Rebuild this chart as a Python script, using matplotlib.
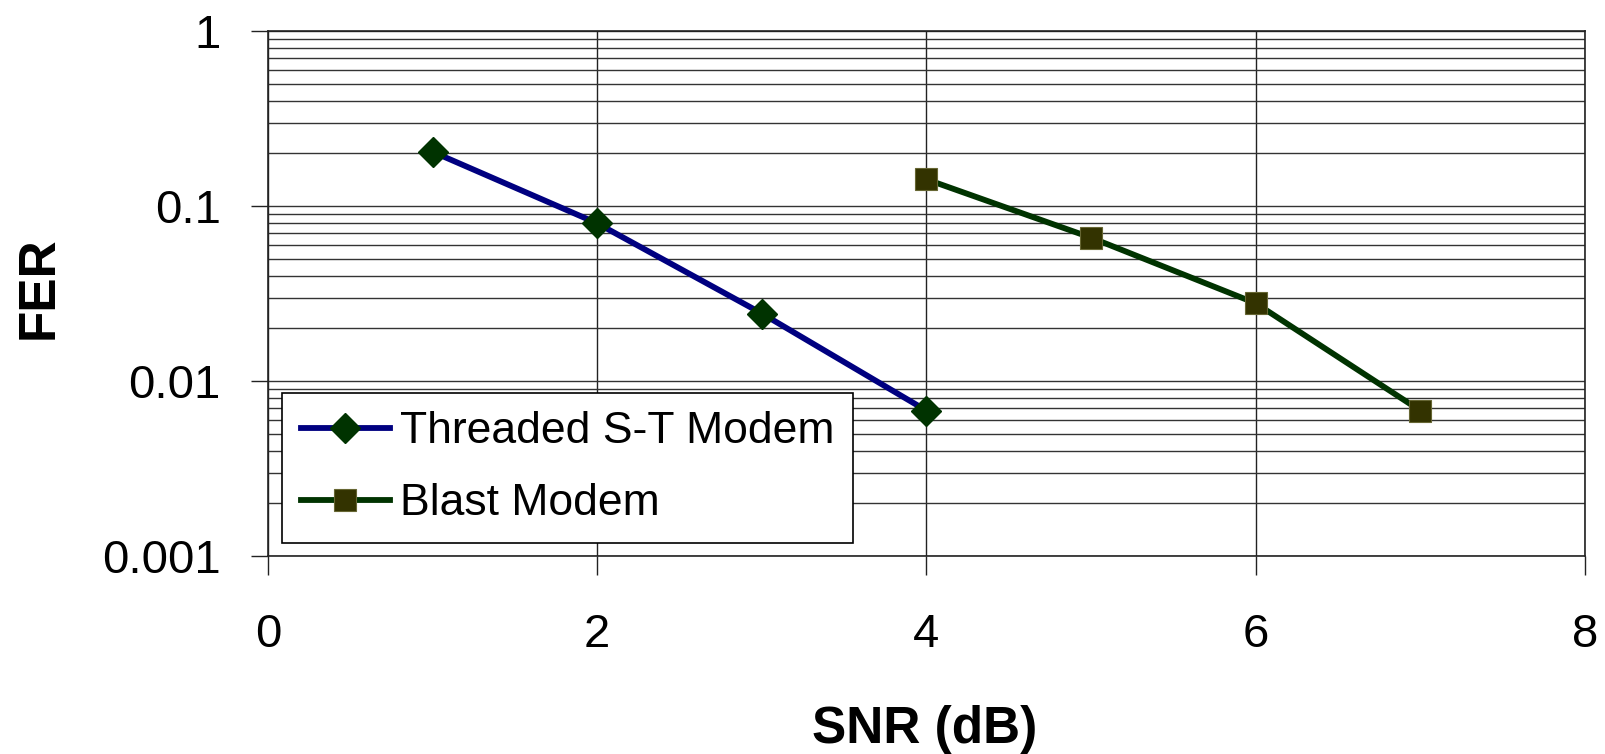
import matplotlib
matplotlib.use("Agg")
import matplotlib.pyplot as plt
import numpy as np

# data
snr_threaded = [1, 2, 3, 4]
fer_threaded = [0.204, 0.0796, 0.0243, 0.00677]
snr_blast = [4, 5, 6, 7]
fer_blast = [0.142, 0.0659, 0.0278, 0.00677]
x_ticks = [0, 2, 4, 6, 8]
y_ticks = [0.001, 0.01, 0.1, 1]
y_tick_labels = ["0.001", "0.01", "0.1", "1"]

plt.rcParams["font.family"] = ["Liberation Sans", "DejaVu Sans"]
tick_fs = 34
leg_fs = 32
lab_fs = 37

W, H = 1606, 754
fig = plt.figure(figsize=(W / 100, H / 100), dpi=100)
ax = fig.add_axes([268 / W, 1 - 556 / H, 1317 / W, 525 / H])

ax.set_yscale("log")
ax.set_xlim(0, 8)
ax.set_ylim(0.001, 1)

# grid: every decade and sub-decade, vertical lines at the major x ticks
ax.set_yticks(y_ticks)
ax.set_yticklabels(y_tick_labels)
ax.set_yticks([m * 10.0 ** e for e in (-3, -2, -1) for m in range(2, 10)], minor=True)
ax.set_xticks(x_ticks)
ax.grid(True, which="both", axis="y", color="#333333", lw=1.0)
ax.grid(True, which="major", axis="x", color="#222222", lw=1.0)
ax.set_axisbelow(True)

ax.tick_params(axis="x", which="major", direction="out", length=14, width=1.0,
               color="#222222", labelsize=tick_fs, pad=27)
ax.tick_params(axis="y", which="major", direction="out", length=12, width=1.0,
               color="#222222", labelsize=tick_fs, pad=22)
ax.tick_params(axis="y", which="minor", length=0)
for s in ax.spines.values():
    s.set_color("#222222")
    s.set_linewidth(1.2)

ax.plot(snr_threaded, fer_threaded, color="#000080", lw=4.2, marker="D", ms=15,
        mfc="#003300", mec="#003300", label="Threaded S-T Modem", zorder=3)
ax.plot(snr_blast, fer_blast, color="#003300", lw=4.2, marker="s", ms=16.5,
        mfc="#333300", mec="#666633", mew=0.8, label="Blast Modem", zorder=3)

leg = ax.legend(loc="lower left", bbox_to_anchor=(0.0106, 0.0248), borderaxespad=0,
                fontsize=leg_fs, fancybox=False, framealpha=1, edgecolor="black",
                handlelength=2.0, handletextpad=0.23, borderpad=0.42,
                labelspacing=0.7)
leg.get_frame().set_linewidth(1.2)

fig.text(39 / W, 1 - 288 / H, "FER", rotation=90, ha="center", va="center",
         fontsize=lab_fs, fontweight="bold")
fig.text(925 / W, 1 - 730 / H, "SNR (dB)", ha="center", va="center",
         fontsize=lab_fs, fontweight="bold")

fig.savefig("out.png", dpi=100)
